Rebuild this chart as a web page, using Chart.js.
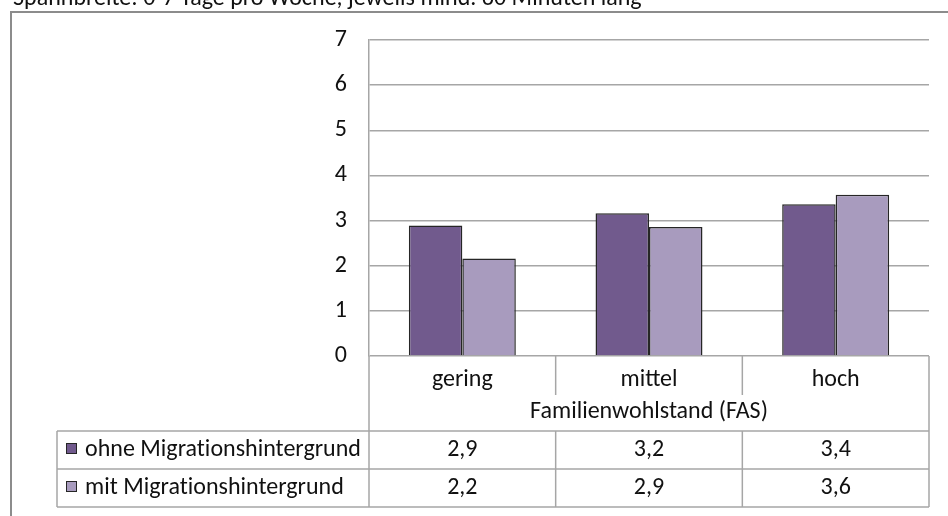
<!DOCTYPE html>
<html><head><meta charset="utf-8">
<script src="https://cdn.jsdelivr.net/npm/chart.js@4/dist/chart.umd.min.js"></script>
<style>html,body{margin:0;padding:0;background:#fff;overflow:hidden}canvas{display:block}</style>
</head><body>
<canvas id="c" width="948" height="516"></canvas>
<script>
// ---- data ----
const caption = 'Spannbreite: 0-7 Tage pro Woche, jeweils mind. 60 Minuten lang';
const categories = ['gering', 'mittel', 'hoch'];
const axisTitle = 'Familienwohlstand (FAS)';
const seriesNames = ['ohne Migrationshintergrund', 'mit Migrationshintergrund'];
const ohneValues = [2.89, 3.16, 3.36];
const mitValues = [2.16, 2.86, 3.57];
const yMin = 0, yMax = 7, yStep = 1;

// ---- style ----
const FAMILY = 'Carlito, Lato, "Open Sans", sans-serif';
const mctx = document.createElement('canvas').getContext('2d');
mctx.font = '100px ' + FAMILY;
const FS = Math.round(100 * 275 / mctx.measureText(seriesNames[0]).width * 10) / 10;
const TEXT = '#111111';
const GRID = '#a6a6a6';
const COLORS = ['#715A8D', '#A89BBE'];
const BAR_BORDER = '#262626';
const fmt = v => v.toFixed(1).replace('.', ',');

const tablePlugin = {
  id: 'dataTable',
  beforeDraw(chart) {
    const ctx = chart.ctx;
    ctx.save(); ctx.fillStyle = '#fff'; ctx.fillRect(0, 0, chart.width, chart.height); ctx.restore();
  },
  afterDraw(chart) {
    const ctx = chart.ctx, a = chart.chartArea, x = chart.scales.x;
    const n = categories.length;
    const cw = (a.right - a.left) / n;
    const bounds = [];
    for (let i = 0; i <= n; i++) bounds.push(a.left + i * cw);
    const headerBottom = chart.scales.x.bottom;
    const rowH = 38;
    const tableLeft = 57;
    ctx.save();
    ctx.strokeStyle = GRID; ctx.lineWidth = 1.5;
    const line = (x1, y1, x2, y2) => { ctx.beginPath(); ctx.moveTo(x1, y1); ctx.lineTo(x2, y2); ctx.stroke(); };
    // header area borders
    line(a.left, a.bottom, a.left, headerBottom + 2 * rowH);
    line(a.right, a.bottom, a.right, headerBottom + 2 * rowH);
    for (let i = 1; i < n; i++) line(bounds[i], a.bottom, bounds[i], a.bottom + 39);
    // rows
    for (let r = 0; r <= 2; r++) line(tableLeft, headerBottom + r * rowH, a.right, headerBottom + r * rowH);
    line(tableLeft, headerBottom, tableLeft, headerBottom + 2 * rowH);
    for (let i = 1; i < n; i++) line(bounds[i], headerBottom, bounds[i], headerBottom + 2 * rowH);
    // contents
    ctx.font = FS + 'px ' + FAMILY;
    try { ctx.letterSpacing = '0.01px'; ctx.textRendering = 'optimizeSpeed'; } catch (e) {}
    ctx.fillStyle = TEXT;
    ctx.textBaseline = 'middle';
    chart.data.datasets.forEach((ds, r) => {
      const cy = headerBottom + r * rowH + rowH / 2;
      ctx.fillStyle = COLORS[r];
      ctx.fillRect(66, cy - 7, 11, 11);
      ctx.strokeStyle = BAR_BORDER; ctx.lineWidth = 1;
      ctx.strokeRect(66.5, cy - 6.5, 10, 10);
      ctx.fillStyle = TEXT;
      ctx.textAlign = 'left';
      ctx.fillText(ds.label, 85, cy);
      ctx.textAlign = 'center';
      ds.data.forEach((v, i) => ctx.fillText(fmt(v), x.getPixelForValue(i), cy));
    });
    // outer frame
    ctx.strokeStyle = '#8c8c8c'; ctx.lineWidth = 2;
    ctx.strokeRect(11, 12, 2000, 2000);
    // caption (cut at top)
    ctx.textAlign = 'left'; ctx.textBaseline = 'alphabetic';
    ctx.fillText(caption, 13, 5);
    ctx.restore();
  }
};

new Chart(document.getElementById('c'), {
  type: 'bar',
  data: {
    labels: categories,
    datasets: [
      { label: seriesNames[0], data: ohneValues, backgroundColor: COLORS[0], borderColor: BAR_BORDER, borderWidth: 1.5, categoryPercentage: 0.573, barPercentage: 1 },
      { label: seriesNames[1], data: mitValues, backgroundColor: COLORS[1], borderColor: BAR_BORDER, borderWidth: 1.5, categoryPercentage: 0.573, barPercentage: 1 }
    ]
  },
  options: {
    responsive: false, animation: false, devicePixelRatio: 1,
    layout: { padding: { left: 0, top: 40, right: 19, bottom: 85 } },
    plugins: { legend: { display: false }, tooltip: { enabled: false } },
    scales: {
      x: {
        grid: { display: false, drawTicks: false }, border: { display: false },
        ticks: { font: { family: FAMILY, size: FS }, color: TEXT, padding: 10 },
        title: { display: true, text: axisTitle, font: { family: FAMILY, size: FS }, color: TEXT, padding: { top: 0, bottom: 5 } },
        afterFit(s) { s.height = 75; }
      },
      y: {
        min: yMin, max: yMax,
        ticks: { stepSize: yStep, font: { family: FAMILY, size: FS }, color: TEXT, padding: 22 },
        grid: { color: GRID, lineWidth: 1.5, drawTicks: false },
        border: { display: true, color: GRID, width: 1.5 },
        afterFit(s) { s.width = 369; }
      }
    }
  },
  plugins: [tablePlugin]
});
</script>
</body></html>
